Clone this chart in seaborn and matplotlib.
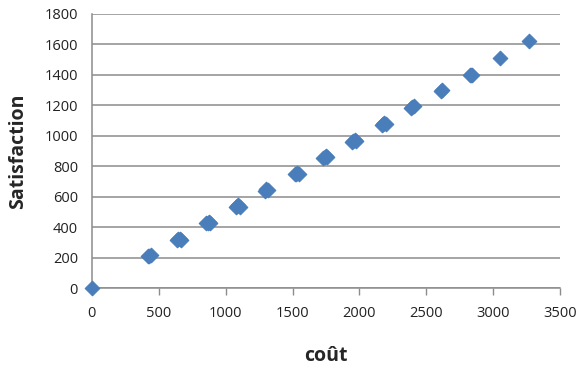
import matplotlib
matplotlib.use("Agg")
import matplotlib.pyplot as plt
import seaborn as sns
import pandas as pd

# cost / satisfaction observations (several runs per budget level)
cout = [0,
        420, 430, 440,
        635, 645, 655, 665,
        855, 865, 875, 885,
        1075, 1085, 1095, 1105,
        1295, 1305, 1315,
        1515, 1525, 1535, 1545,
        1730, 1740, 1750, 1760,
        1945, 1955, 1965, 1975,
        2165, 2175, 2185, 2195,
        2385, 2395, 2405,
        2610, 2620,
        2825, 2835, 2845,
        3050,
        3265]
satisfaction = [0,
                208, 212, 216,
                315, 320, 325, 318,
                425, 430, 435, 428,
                532, 538, 545, 535,
                640, 648, 645,
                748, 752, 755, 750,
                855, 860, 865, 858,
                962, 968, 972, 966,
                1072, 1078, 1082, 1076,
                1185, 1190, 1193,
                1293, 1300,
                1398, 1402, 1400,
                1508,
                1620]

x_ticks = [0, 500, 1000, 1500, 2000, 2500, 3000, 3500]
y_ticks = [0, 200, 400, 600, 800, 1000, 1200, 1400, 1600, 1800]

sns.set_theme(style="white")
plt.rcParams["font.family"] = ["Open Sans", "DejaVu Sans"]

df = pd.DataFrame({"coût": cout, "Satisfaction": satisfaction})

fig = plt.figure(figsize=(5.78, 3.67), dpi=100)
ax = fig.add_axes([0.159, 0.215, 0.81, 0.747])

sns.scatterplot(data=df, x="coût", y="Satisfaction", ax=ax, marker="D",
                s=55, color="#4a7ebb", edgecolor="#4a7ebb", linewidth=0.8,
                zorder=3, clip_on=False)

ax.set_xlim(0, 3500)
ax.set_ylim(0, 1800)
ax.set_xticks(x_ticks)
ax.set_yticks(y_ticks)
ax.set_xticklabels([str(v) for v in x_ticks], fontsize=10.5, color="#222222")
ax.set_yticklabels([str(v) for v in y_ticks], fontsize=10.5, color="#222222")

ax.yaxis.grid(True, color="#8c8c8c", linewidth=1.1)
ax.xaxis.grid(False)
ax.set_axisbelow(True)

for side in ("top", "right"):
    ax.spines[side].set_visible(False)
for side in ("left", "bottom"):
    ax.spines[side].set_color("#8c8c8c")
    ax.spines[side].set_linewidth(1.1)

ax.tick_params(axis="x", which="major", direction="out", length=5,
               width=1, color="#8c8c8c", pad=8, bottom=True)
ax.tick_params(axis="y", which="major", length=0, pad=10, left=False)

ax.set_xlabel("coût", fontsize=14, fontweight="bold", labelpad=18)
ax.set_ylabel("Satisfaction", fontsize=14, fontweight="bold", labelpad=12)

fig.savefig("out.png", dpi=100)
